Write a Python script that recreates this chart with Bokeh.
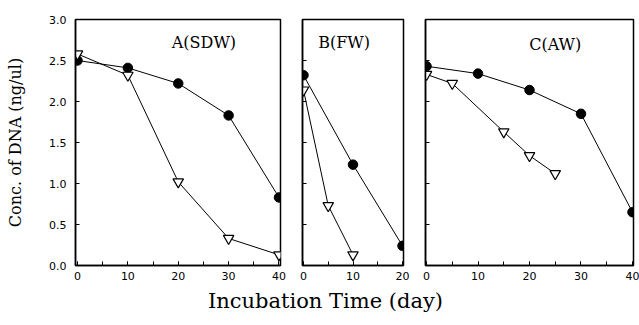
from bokeh.plotting import figure
from bokeh.layouts import row, column
from bokeh.models import Label, SingleIntervalTicker, PrintfTickFormatter
from bokeh.embed import file_html
from bokeh.resources import INLINE

# ---- data ----
a_days_closed = [0, 10, 20, 30, 40]
a_conc_closed = [2.50, 2.41, 2.22, 1.83, 0.83]
a_days_open = [0, 10, 20, 30, 40]
a_conc_open = [2.58, 2.32, 1.02, 0.33, 0.13]

b_days_closed = [0, 10, 20]
b_conc_closed = [2.32, 1.23, 0.24]
b_days_open = [0, 5, 10]
b_conc_open = [2.14, 0.73, 0.13]

c_days_closed = [0, 10, 20, 30, 40]
c_conc_closed = [2.43, 2.34, 2.14, 1.85, 0.65]
c_days_open = [0, 5, 15, 20, 25]
c_conc_open = [2.33, 2.22, 1.63, 1.34, 1.12]

y_ticks = [0.0, 0.5, 1.0, 1.5, 2.0, 2.5, 3.0]
panel_titles = ["A(SDW)", "B(FW)", "C(AW)"]
x_title = "Incubation Time (day)"
y_title = "Conc. of DNA (ng/ul)"

SERIF = "DejaVu Serif"
SANS = "DejaVu Sans"


def make_panel(x_range, frame_w, left, right, top, title, title_xy,
               cd, cc, od, oc, show_y_labels):
    frame_h = 250
    total_h = 287
    p = figure(width=left + frame_w + right, height=total_h,
               x_range=x_range, y_range=(0, 3.0),
               min_border_left=left, min_border_right=right,
               min_border_top=top, min_border_bottom=total_h - top - frame_h,
               toolbar_location=None, output_backend="svg")
    p.background_fill_color = "white"
    p.border_fill_color = "white"
    p.grid.visible = False
    p.outline_line_color = "black"
    p.outline_line_width = 1.5

    p.xaxis.ticker = SingleIntervalTicker(interval=10, num_minor_ticks=2)
    p.yaxis.ticker = SingleIntervalTicker(interval=0.5, num_minor_ticks=0)
    p.yaxis.formatter = PrintfTickFormatter(format="%.1f")
    for ax in (p.xaxis[0], p.yaxis[0]):
        ax.axis_line_color = "black"
        ax.axis_line_width = 1.5
        ax.major_tick_in = 4
        ax.major_tick_out = 0
        ax.minor_tick_in = 4
        ax.minor_tick_out = 0
        ax.major_tick_line_color = "black"
        ax.minor_tick_line_color = "black"
        ax.major_label_text_font = SANS
        ax.major_label_text_font_size = "11px"
        ax.major_label_text_color = "black"
    p.xaxis.major_label_standoff = 6
    p.yaxis.major_label_standoff = 9
    if show_y_labels:
        p.yaxis.axis_label = y_title
        p.yaxis.axis_label_text_font = SERIF
        p.yaxis.axis_label_text_font_style = "normal"
        p.yaxis.axis_label_text_font_size = "16px"
        p.yaxis.axis_label_text_color = "black"
        p.yaxis.axis_label_standoff = 21
    else:
        p.yaxis.major_label_overrides = {t: "" for t in y_ticks}
        p.yaxis.major_label_standoff = 0

    p.line(cd, cc, line_color="black", line_width=1)
    p.line(od, oc, line_color="black", line_width=1)
    p.scatter(cd, cc, marker="circle", size=9.5, fill_color="black",
              line_color="black")
    p.scatter(od, oc, marker="inverted_triangle", size=10.5,
              fill_color="white", line_color="black", line_width=1.2)

    p.add_layout(Label(x=title_xy[0], y=title_xy[1], text=title,
                       text_font=SERIF, text_font_size="16px",
                       text_align="center", text_baseline="middle",
                       text_color="black"))
    return p


pA = make_panel((-0.4, 40.3), 205, 75, 11, 19, panel_titles[0], (25.1, 2.72),
                a_days_closed, a_conc_closed, a_days_open, a_conc_open, True)
pB = make_panel((-0.2, 20.2), 101, 11, 11, 17, panel_titles[1], (8.2, 2.72),
                b_days_closed, b_conc_closed, b_days_open, b_conc_open, False)
pC = make_panel((-0.2, 40.2), 208, 11, 6, 15, panel_titles[2], (25.0, 2.69),
                c_days_closed, c_conc_closed, c_days_open, c_conc_open, False)

pX = figure(width=639, height=35, x_range=(0, 639), y_range=(0, 35),
            min_border=0, toolbar_location=None, output_backend="svg")
pX.axis.visible = False
pX.grid.visible = False
pX.outline_line_color = None
pX.add_layout(Label(x=325, y=22, text=x_title, text_font=SERIF,
                    text_font_size="21px", text_align="center",
                    text_baseline="middle", text_color="black"))

layout = column(row(pA, pB, pC), pX)
open("out.html", "w").write(file_html(layout, INLINE))
